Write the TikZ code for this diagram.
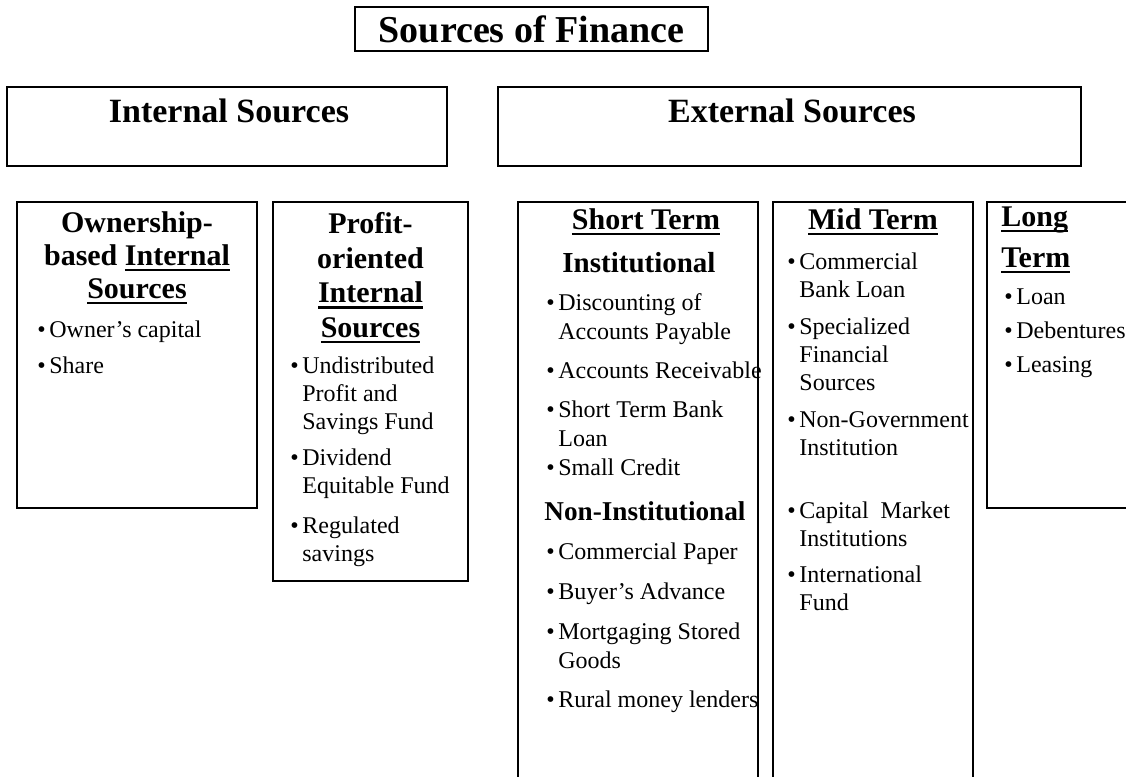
\documentclass[tikz,border=0pt]{standalone}
\usepackage{fontspec}
\setmainfont{Liberation Serif}
\usepackage{tikz}
\newcommand{\fl}{\rule{0pt}{12pt}}
\newcommand{\bl}{\textbullet\hspace{0.15em}}
\newcommand{\ind}{\hphantom{\bl}}
\newcommand{\undl}[1]{\setbox0\hbox{#1}\rlap{\rule[-3pt]{\wd0}{1.2pt}}\box0}
\newcommand{\drawbox}{\draw[line width=1pt]}
\tikzset{
  head/.style={font=\bfseries\fontsize{15}{#1}\selectfont,inner sep=0pt},
  head/.default=17,
  sub/.style={font=\bfseries\fontsize{#1}{16}\selectfont,inner sep=0pt,anchor=base},
  sub/.default=14.5,
  lst/.style={font=\fontsize{12}{#1}\selectfont,inner sep=0pt,align=left,anchor=north west},
  lst/.default=13.5
}
\begin{document}
\begin{tikzpicture}[x=0.5pt,y=-0.5pt]
\useasboundingbox (0,0) rectangle (1126,777);
\clip (0,0) rectangle (1126,777);
% title and the two main groups
\node[draw,line width=1pt,minimum width=176.5pt,minimum height=22pt,inner sep=0pt,
  font=\bfseries\fontsize{19}{22}\selectfont] (title) at (531.5,29) {Sources of Finance};
\drawbox (7,87) rectangle (447,166);
\drawbox (498,87) rectangle (1081,166);
\node[font=\bfseries\fontsize{17}{20}\selectfont,inner sep=0pt,anchor=base] (intsrc) at (229,122) {Internal Sources};
\node[font=\bfseries\fontsize{17}{20}\selectfont,inner sep=0pt,anchor=base] (extsrc) at (792,122) {External Sources};
% internal columns
\drawbox (17,202) rectangle (257,508);
\drawbox (273,202) rectangle (468,581);
\node[head=16.5,align=center,anchor=north] (ownhead) at (137,208) {\fl Ownership-\\based \undl{Internal}\\\undl{Sources}};
\node[lst] (ownlist) at (37,313) {\fl\bl Owner's capital\\[4.5pt]\bl Share};
\node[head=17.3,align=center,anchor=north] (profhead) at (370.5,209) {\fl Profit-\\oriented\\\undl{Internal}\\\undl{Sources}};
\node[lst=14] (proflist) at (290,349) {\fl\bl Undistributed\\\ind Profit and\\\ind Savings Fund\\[4pt]\bl Dividend\\\ind Equitable Fund\\[6pt]\bl Regulated\\\ind savings};
% external columns
\drawbox (518,202) rectangle (758,800);
\drawbox (773,202) rectangle (973,800);
\drawbox (987,202) rectangle (1140,508);
\node[head,anchor=base] (shorthead) at (646,229) {\undl{Short Term}};
\node[sub] (instit) at (639,272) {Institutional};
\node[lst=14.5] (institlist) at (546,286) {\fl\bl Discounting of\\\ind Accounts Payable\\[5pt]\bl Accounts Receivable\\[5pt]\bl Short Term Bank\\\ind Loan\\\bl Small Credit};
\node[sub=13.6] (noninstit) at (645,520) {Non-Institutional};
\node[lst=14.5] (noninstitlist) at (546,535) {\fl\bl Commercial Paper\\[5.5pt]\bl Buyer's Advance\\[5.5pt]\bl Mortgaging Stored\\\ind Goods\\[5pt]\bl Rural money lenders};
\node[head,anchor=base] (midhead) at (873,229) {\undl{Mid Term}};
\node[lst=14] (midlist) at (787,245) {\fl\bl Commercial\\\ind Bank Loan\\[4.5pt]\bl Specialized\\\ind Financial\\\ind Sources\\[4.5pt]\bl Non-Government\\\ind Institution\\[17.5pt]\bl Capital\ \ Market\\\ind Institutions\\[4pt]\bl International\\\ind Fund};
\node[head=20.5,align=left,anchor=north west] (longhead) at (1001,202) {\fl\undl{Long}\\\undl{Term}};
\node[lst=17] (longlist) at (1004,280) {\fl\bl Loan\\\bl Debentures\\\bl Leasing};
\end{tikzpicture}
\end{document}
